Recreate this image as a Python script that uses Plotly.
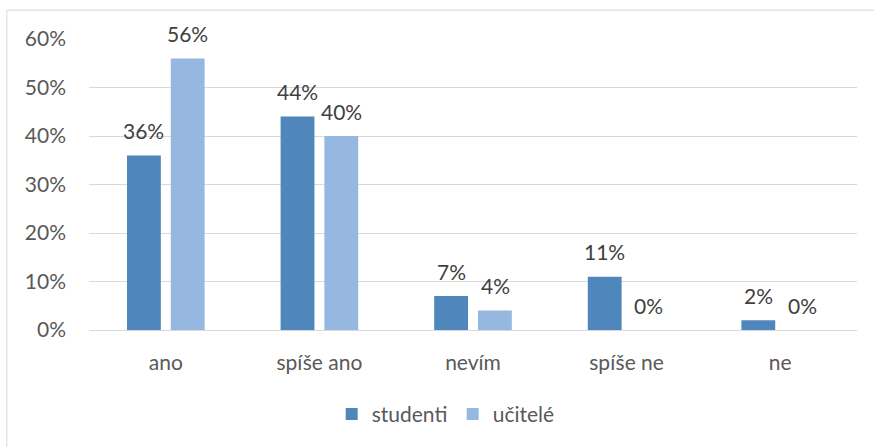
import plotly.graph_objects as go

# Survey answers and share of respondents per group
categories = ["ano", "spíše ano", "nevím", "spíše ne", "ne"]
studenti = [0.36, 0.44, 0.07, 0.11, 0.02]
ucitele = [0.56, 0.40, 0.04, 0.00, 0.00]
series_names = ["studenti", "učitelé"]
series_colors = ["#4F87BD", "#96B8E0"]
y_ticks = [0, 0.1, 0.2, 0.3, 0.4, 0.5, 0.6]
y_tick_labels = ["0%", "10%", "20%", "30%", "40%", "50%", "60%"]

FONT = "Lato"
SIZE = 21
TEXT = "#595959"
LABEL = "#404040"
GRID = "#D9D9D9"

fig = go.Figure()
for name, values, color in zip(series_names, [studenti, ucitele], series_colors):
    fig.add_trace(go.Bar(
        x=categories, y=values, name=name,
        marker=dict(color=color, line=dict(width=0)),
        hoverinfo="skip",
    ))

# Value labels above each bar
annotations = []
for offset, values in zip([-22, 22], [studenti, ucitele]):
    for cat, v in zip(categories, values):
        annotations.append(dict(
            x=cat, y=v, xref="x", yref="y",
            text=f"{round(v * 100)}%", showarrow=False,
            xshift=offset, yshift=25, yanchor="middle",
            font=dict(family=FONT, size=SIZE, color=LABEL),
        ))

# Chart-area border (top and left edges)
border = dict(color=GRID, width=1)
shapes = [
    dict(type="line", xref="paper", yref="paper",
         x0=-0.107, x1=1.2, y0=1.099, y1=1.099, line=border),
    dict(type="line", xref="paper", yref="paper",
         x0=-0.107, x1=-0.107, y0=-0.6, y1=1.099, line=border),
]

fig.update_layout(
    width=874, height=447,
    margin=dict(l=89, r=17, t=39, b=115),
    paper_bgcolor="white", plot_bgcolor="white",
    barmode="group", bargap=0.43, bargroupgap=0.227,
    font=dict(family=FONT, size=SIZE, color=TEXT),
    showlegend=True,
    legend=dict(orientation="h", x=0.316, xanchor="left", y=-0.29, yanchor="middle",
                font=dict(family=FONT, size=SIZE, color=TEXT),
                itemwidth=30, entrywidth=76, entrywidthmode="pixels",
                traceorder="normal"),
    annotations=annotations,
    shapes=shapes,
    xaxis=dict(showgrid=False, showline=False, zeroline=False, ticks="",
               ticklabelstandoff=18, tickfont=dict(family=FONT, size=SIZE, color=TEXT)),
    yaxis=dict(range=[0, 0.6], tickvals=y_ticks, ticktext=y_tick_labels,
               showgrid=True, gridcolor=GRID, gridwidth=1,
               zeroline=True, zerolinecolor=GRID, zerolinewidth=1,
               showline=False, ticks="", ticklabelstandoff=22,
               tickfont=dict(family=FONT, size=SIZE, color=TEXT)),
)

fig.write_html("out.html")
